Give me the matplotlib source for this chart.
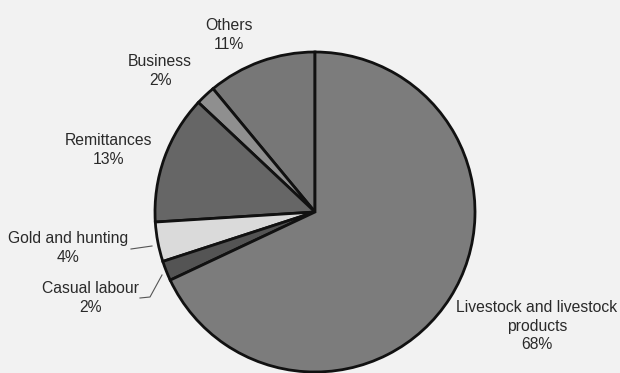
import matplotlib.pyplot as plt

plt.rcParams['font.family'] = ['Liberation Sans', 'DejaVu Sans']

labels = ['Others', 'Business', 'Remittances', 'Gold and hunting',
          'Casual labour', 'Livestock and livestock\nproducts']
shares = [11, 2, 13, 4, 2, 68]
colors = ['#777777', '#8f8f8f', '#666666', '#dadada', '#545454', '#7c7c7c']

# label centres in pixel space (y measured from top)
label_pos = [(229, 35), (160, 71), (108, 150), (68, 248), (90, 298), (537, 326)]

W, H = 620, 373
fig = plt.figure(figsize=(6.2, 3.73), dpi=100, facecolor='#f2f2f2')
ax = fig.add_axes([0, 0, 1, 1])
ax.set_facecolor('#f2f2f2')

ax.pie(shares, startangle=90, counterclock=True, colors=colors,
       center=(315, H - 212), radius=160,
       wedgeprops=dict(edgecolor='#111111', linewidth=2.0))

for lab, val, (x, y) in zip(labels, shares, label_pos):
    ax.text(x, H - y, f'{lab}\n{val}%', ha='center', va='center',
            fontsize=11.3, color='#2a2a2a', linespacing=1.3)

# leader lines for the two thin slices
ax.plot([131, 152], [H - 249, H - 246], color='#555555', lw=0.8)
ax.plot([140, 150, 162], [H - 298, H - 297, H - 275], color='#555555', lw=0.8)

ax.set_xlim(0, W)
ax.set_ylim(0, H)
ax.set_aspect('equal')
ax.axis('off')

fig.savefig('out.png', dpi=100, facecolor=fig.get_facecolor())
